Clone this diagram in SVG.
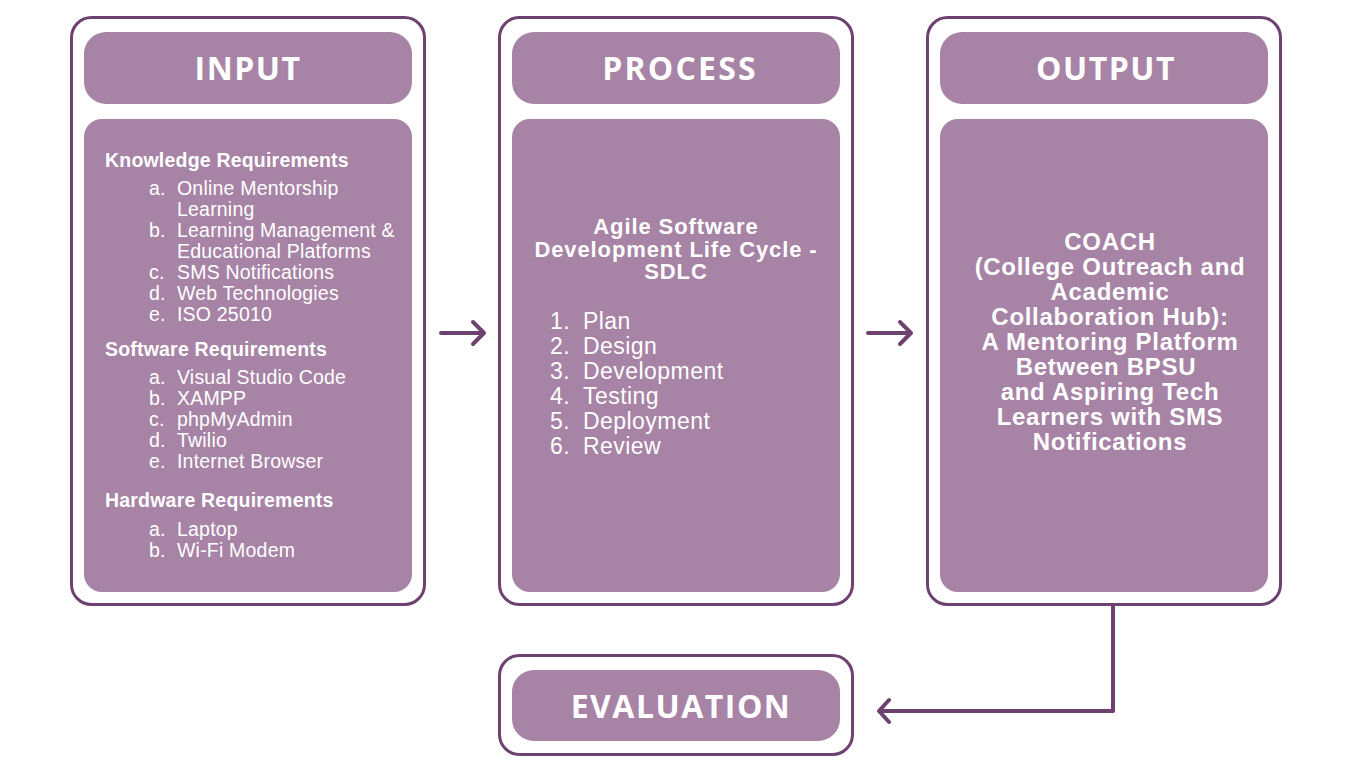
<svg xmlns="http://www.w3.org/2000/svg" width="1366" height="768" viewBox="0 0 1366 768">
<defs>
<style>
.outer{fill:#ffffff;stroke:#6e4270;stroke-width:3}
.pill{fill:#a783a5}
.hdr{font-family:"Open Sans","Liberation Sans",sans-serif;font-weight:700;font-size:32px;fill:#ffffff;text-anchor:middle;letter-spacing:1.5px}
.h{font-family:"Liberation Sans",Arial,sans-serif;font-weight:700;font-size:19.5px;letter-spacing:0.2px;fill:#ffffff}
.t{font-family:"Liberation Sans",Arial,sans-serif;font-size:19.5px;letter-spacing:0.2px;fill:#ffffff}
.pt{font-family:"Liberation Sans",Arial,sans-serif;font-weight:700;font-size:22px;letter-spacing:0.9px;fill:#ffffff;text-anchor:middle}
.pl{font-family:"Liberation Sans",Arial,sans-serif;font-size:23px;letter-spacing:0.45px;fill:#ffffff}
.ot{font-family:"Liberation Sans",Arial,sans-serif;font-weight:700;font-size:24px;letter-spacing:0.7px;fill:#ffffff;text-anchor:middle}
.conn{fill:none;stroke:#6e4270;stroke-width:4;stroke-linecap:round;stroke-linejoin:round}
</style>
</defs>
<rect width="1366" height="768" fill="#ffffff"/>

<g id="input">
<rect class="outer" x="71.5" y="17.5" width="353" height="587" rx="20"/>
<rect class="pill" x="84" y="32" width="328" height="72" rx="22"/>
<text class="hdr" x="248" y="80">INPUT</text>
<rect class="pill" x="84" y="119" width="328" height="473" rx="18"/>
<text class="h" x="105" y="167">Knowledge Requirements</text>
<text class="t" x="149" y="195">a.</text><text class="t" x="177" y="195">Online Mentorship</text>
<text class="t" x="177" y="216">Learning</text>
<text class="t" x="149" y="237">b.</text><text class="t" x="177" y="237">Learning Management &amp;</text>
<text class="t" x="177" y="258">Educational Platforms</text>
<text class="t" x="149" y="279">c.</text><text class="t" x="177" y="279">SMS Notifications</text>
<text class="t" x="149" y="300">d.</text><text class="t" x="177" y="300">Web Technologies</text>
<text class="t" x="149" y="321">e.</text><text class="t" x="177" y="321">ISO 25010</text>
<text class="h" x="105" y="356">Software Requirements</text>
<text class="t" x="149" y="384">a.</text><text class="t" x="177" y="384">Visual Studio Code</text>
<text class="t" x="149" y="405">b.</text><text class="t" x="177" y="405">XAMPP</text>
<text class="t" x="149" y="426">c.</text><text class="t" x="177" y="426">phpMyAdmin</text>
<text class="t" x="149" y="447">d.</text><text class="t" x="177" y="447">Twilio</text>
<text class="t" x="149" y="468">e.</text><text class="t" x="177" y="468">Internet Browser</text>
<text class="h" x="105" y="507">Hardware Requirements</text>
<text class="t" x="149" y="536">a.</text><text class="t" x="177" y="536">Laptop</text>
<text class="t" x="149" y="557">b.</text><text class="t" x="177" y="557">Wi-Fi Modem</text>
</g>

<g id="process">
<rect class="outer" x="499.5" y="17.5" width="353" height="587" rx="20"/>
<rect class="pill" x="512" y="32" width="328" height="72" rx="22"/>
<text class="hdr" x="680" y="80" style="letter-spacing:2.2px">PROCESS</text>
<rect class="pill" x="512" y="119" width="328" height="473" rx="18"/>
<text class="pt" x="676" y="234">Agile Software</text>
<text class="pt" x="676" y="256.5">Development Life Cycle -</text>
<text class="pt" x="676" y="279">SDLC</text>
<text class="pl" x="550" y="329">1.</text><text class="pl" x="583" y="329">Plan</text>
<text class="pl" x="550" y="354">2.</text><text class="pl" x="583" y="354">Design</text>
<text class="pl" x="550" y="379">3.</text><text class="pl" x="583" y="379">Development</text>
<text class="pl" x="550" y="404">4.</text><text class="pl" x="583" y="404">Testing</text>
<text class="pl" x="550" y="429">5.</text><text class="pl" x="583" y="429">Deployment</text>
<text class="pl" x="550" y="454">6.</text><text class="pl" x="583" y="454">Review</text>
</g>

<g id="output">
<rect class="outer" x="927.5" y="17.5" width="353" height="587" rx="20"/>
<rect class="pill" x="940" y="32" width="328" height="72" rx="22"/>
<text class="hdr" x="1106" y="80">OUTPUT</text>
<rect class="pill" x="940" y="119" width="328" height="473" rx="18"/>
<text class="ot" x="1110" y="250">COACH</text>
<text class="ot" x="1110" y="275">(College Outreach and</text>
<text class="ot" x="1110" y="300">Academic</text>
<text class="ot" x="1110" y="325">Collaboration Hub):</text>
<text class="ot" x="1110" y="350">A Mentoring Platform</text>
<text class="ot" x="1106" y="375">Between BPSU</text>
<text class="ot" x="1110" y="400">and Aspiring Tech</text>
<text class="ot" x="1110" y="425">Learners with SMS</text>
<text class="ot" x="1110" y="450">Notifications</text>
</g>

<g id="evaluation">
<rect class="outer" x="499.5" y="655.5" width="353" height="99" rx="20"/>
<rect class="pill" x="512" y="670" width="328" height="71" rx="22"/>
<text class="hdr" x="681" y="718">EVALUATION</text>
</g>

<g id="connectors">
<path class="conn" d="M441 333 H484 M473 322 L484 333 L473 344"/>
<path class="conn" d="M868 333 H911 M900 322 L911 333 L900 344"/>
<path class="conn" d="M1113 606 V711 H879 M889 700 L879 711 L889 722" stroke-width="3.5"/>
</g>
</svg>
